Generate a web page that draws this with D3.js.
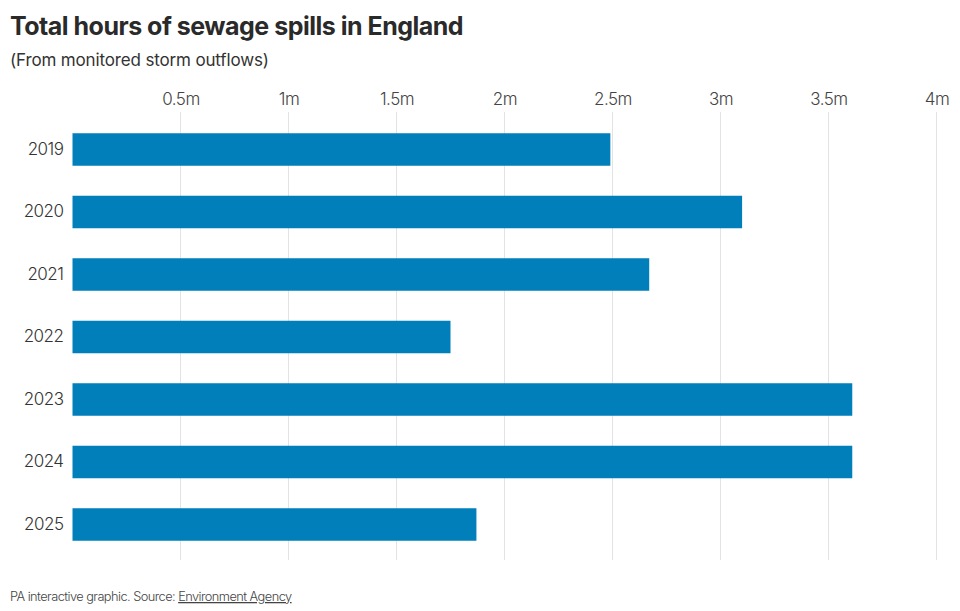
<!DOCTYPE html>
<html>
<head>
<meta charset="utf-8">
<script src="https://cdn.jsdelivr.net/npm/d3@7/dist/d3.min.js"></script>
<style>
  html, body { margin: 0; padding: 0; background: #fff; }
  svg { display: block; font-family: Inter, "Noto Sans", sans-serif; }
</style>
</head>
<body>
<svg id="chart" width="960" height="611"></svg>
<script>
const years = ["2019", "2020", "2021", "2022", "2023", "2024", "2025"];
const hours = [2.49, 3.10, 2.67, 1.75, 3.61, 3.61, 1.87]; // millions of hours
const tickValues = [0.5, 1, 1.5, 2, 2.5, 3, 3.5, 4];
const tickLabels = ["0.5m", "1m", "1.5m", "2m", "2.5m", "3m", "3.5m", "4m"];

const svg = d3.select("#chart");

const x = d3.scaleLinear().domain([0, 4]).range([72.5, 936.5]);
const y = d3.scaleBand().domain(years).range([118.25, 555.75])
  .paddingInner(0.48).paddingOuter(0.24);

// Title
svg.append("text").attr("x", 10).attr("y", 35)
  .attr("font-size", 25).attr("font-weight", 700).attr("fill", "#2a2a2a")
  .attr("letter-spacing", -0.5)
  .text("Total hours of sewage spills in England");
svg.append("text").attr("x", 10).attr("y", 66)
  .attr("font-size", 17).attr("fill", "#333").attr("letter-spacing", -0.15)
  .text("(From monitored storm outflows)");

// Gridlines + top tick labels
const xAxis = d3.axisTop(x).tickValues(tickValues)
  .tickFormat((d, i) => tickLabels[i])
  .tickSize(0).tickPadding(0);
const gx = svg.append("g").attr("transform", "translate(0,105)").call(xAxis);
gx.select(".domain").remove();
gx.selectAll("text").attr("font-size", 17).attr("fill", "#444")
  .attr("font-family", "Inter, sans-serif").attr("font-weight", 300)
  .attr("letter-spacing", -0.5);

svg.append("g").selectAll("line").data(tickValues).join("line")
  .attr("x1", d => x(d)).attr("x2", d => x(d))
  .attr("y1", 112).attr("y2", 560)
  .attr("stroke", "#e3e3e3").attr("stroke-width", 1);

// Bars
svg.append("g").selectAll("rect").data(years).join("rect")
  .attr("x", x(0))
  .attr("y", d => y(d))
  .attr("width", (d, i) => x(hours[i]) - x(0))
  .attr("height", y.bandwidth())
  .attr("fill", "#007fba");

// Year labels
const yAxis = d3.axisLeft(y).tickSize(0).tickPadding(9);
const gy = svg.append("g").attr("transform", `translate(${x(0)},0)`).call(yAxis);
gy.select(".domain").remove();
gy.selectAll("text").attr("font-size", 17).attr("fill", "#333")
  .attr("font-family", "Inter, sans-serif").attr("font-weight", 300)
  .attr("letter-spacing", -0.5);

// Footer
const foot = svg.append("text").attr("x", 10).attr("y", 601)
  .attr("font-size", 12.8).attr("fill", "#444").attr("letter-spacing", -0.55)
  .attr("font-weight", 300);
foot.append("tspan").text("PA interactive graphic. Source: ");
foot.append("tspan").attr("text-decoration", "underline").text("Environment Agency");
</script>
</body>
</html>
